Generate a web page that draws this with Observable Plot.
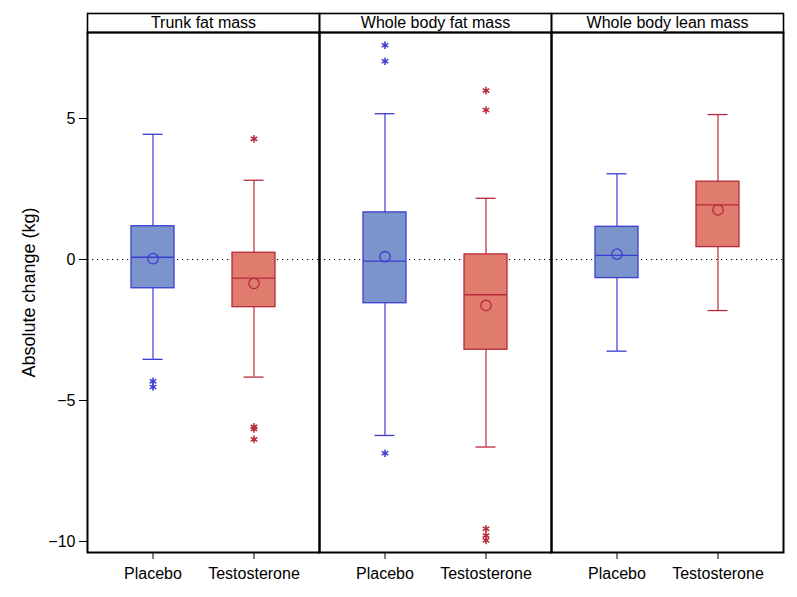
<!DOCTYPE html>
<html>
<head>
<meta charset="utf-8">
<script src="https://cdn.jsdelivr.net/npm/d3@7"></script>
<script src="https://cdn.jsdelivr.net/npm/@observablehq/plot@0.6"></script>
<style>
  html, body { margin: 0; padding: 0; background: #fff; }
  #chart svg { display: block; }
</style>
</head>
<body>
<div id="chart"></div>
<script>
// Panels and groups
const panels = ["Trunk fat mass", "Whole body fat mass", "Whole body lean mass"];
const groups = ["Placebo", "Testosterone"];
const yLabel = "Absolute change (kg)";

// Box statistics, order: per panel, Placebo then Testosterone
const boxPanel  = [0, 0, 1, 1, 2, 2];
const boxGroup  = [0, 1, 0, 1, 0, 1];
const whiskLow  = [-3.54, -4.17, -6.24, -6.65, -3.25, -1.81];
const q1        = [-1.02, -1.69, -1.55, -3.20, -0.66, 0.44];
const median    = [0.08, -0.66, -0.06, -1.25, 0.15, 1.94];
const mean      = [0.03, -0.85, 0.10, -1.63, 0.19, 1.76];
const q3        = [1.18, 0.24, 1.67, 0.18, 1.16, 2.76];
const whiskHigh = [4.44, 2.81, 5.17, 2.17, 3.04, 5.14];

// Outliers
const outPanel = [0, 0, 0, 0, 0, 0, 1, 1, 1, 1, 1, 1, 1, 1];
const outGroup = [0, 0, 1, 1, 1, 1, 0, 0, 0, 1, 1, 1, 1, 1];
const outValue = [-4.32, -4.52, 4.28, -5.93, -6.01, -6.38, 7.60, 7.03, -6.87, 5.99, 5.30, -9.55, -9.79, -9.96];

const yTicks = [-10, -5, 0, 5];

const fillColors   = {"Placebo": "#7B94CB", "Testosterone": "#E07C6E"};
const strokeColors = {"Placebo": "#3C3CD2", "Testosterone": "#B82A3A"};

const boxes = boxPanel.map((p, i) => ({
  panel: panels[p], group: groups[boxGroup[i]],
  low: whiskLow[i], q1: q1[i], median: median[i], mean: mean[i], q3: q3[i], high: whiskHigh[i]
}));
const outliers = outPanel.map((p, i) => ({panel: panels[p], group: groups[outGroup[i]], value: outValue[i]}));

const plot = Plot.plot({
  width: 797,
  height: 597,
  marginLeft: 86,
  marginRight: 13,
  marginTop: 32,
  marginBottom: 45,
  style: {fontFamily: "'Liberation Sans', Arial, sans-serif", fontSize: "16px", color: "#000", background: "#fff"},
  fx: {domain: panels, padding: 0, axis: null},
  x: {type: "band", domain: groups, paddingInner: 0.578, paddingOuter: 0.43},
  y: {domain: [-10.39, 8.05]},
  marks: [
    Plot.ruleY([0], {stroke: "#000", strokeDasharray: "1.2,3.8", strokeWidth: 1.1}),
    Plot.ruleX(boxes, {fx: "panel", x: "group", y1: "low", y2: "high",
      stroke: d => strokeColors[d.group], strokeWidth: 1.2}),
    Plot.tickY(boxes, {fx: "panel", x: "group", y: "low", stroke: d => strokeColors[d.group],
      strokeWidth: 1.3, insetLeft: 11.5, insetRight: 11.5}),
    Plot.tickY(boxes, {fx: "panel", x: "group", y: "high", stroke: d => strokeColors[d.group],
      strokeWidth: 1.3, insetLeft: 11.5, insetRight: 11.5}),
    Plot.barY(boxes, {fx: "panel", x: "group", y1: "q1", y2: "q3",
      fill: d => fillColors[d.group], stroke: d => strokeColors[d.group], strokeWidth: 1.3}),
    Plot.tickY(boxes, {fx: "panel", x: "group", y: "median", stroke: d => strokeColors[d.group], strokeWidth: 1.3}),
    Plot.dot(boxes, {fx: "panel", x: "group", y: "mean", r: 5.2, stroke: d => strokeColors[d.group],
      fill: "none", strokeWidth: 1.3}),
    Plot.dot(outliers, {fx: "panel", x: "group", y: "value", symbol: "asterisk", r: 3.6,
      stroke: d => strokeColors[d.group], strokeWidth: 1.5}),
    Plot.frame({stroke: "#000", strokeWidth: 2}),
    Plot.frame({stroke: "#000", strokeWidth: 1.6, insetTop: -19, insetBottom: 520}),
    Plot.text(panels, {fx: d => d, text: d => d, frameAnchor: "top", dy: -9.5,
      lineAnchor: "middle", fill: "#000", fontSize: 16}),
    Plot.text([yLabel], {fx: () => panels[0], text: d => d, frameAnchor: "left", rotate: -90,
      dx: -58, textAnchor: "middle", lineAnchor: "middle", fill: "#000", fontSize: 18}),
    Plot.axisY(yTicks, {tickSize: 8, tickPadding: 4, label: null, stroke: "#000", fontSize: 16}),
    Plot.axisX({tickSize: 7, tickPadding: 8, label: null, stroke: "#000", fontSize: 16})
  ]
});
document.getElementById("chart").appendChild(plot);
</script>
</body>
</html>
